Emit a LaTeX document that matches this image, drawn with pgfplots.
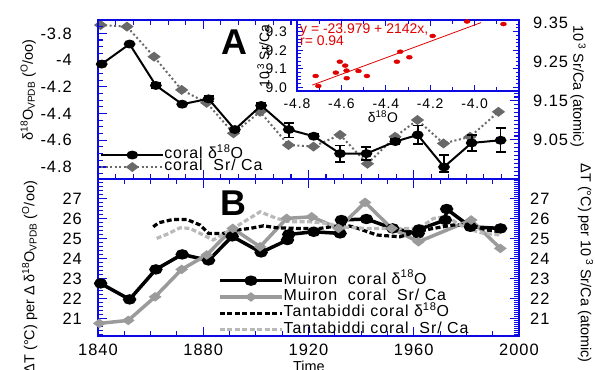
\documentclass[border=0pt]{standalone}
\usepackage{fontspec}
\setmainfont{Liberation Sans}
\newfontfamily\wf[LetterSpace=6]{Liberation Sans}
\usepackage{pgfplots}
\pgfplotsset{compat=1.18}
\definecolor{fblue}{RGB}{10,10,225}
\definecolor{agray}{RGB}{105,105,105}
\definecolor{mgray}{RGB}{155,155,155}
\definecolor{lgray}{RGB}{185,185,185}
\definecolor{ired}{RGB}{225,0,0}
\newcommand{\fs}[1]{\fontsize{#1}{#1}\selectfont}
\pgfplotsset{
  base/.style={
    scale only axis,
    width=421bp,
    xmin=1840, xmax=2000,
    axis line style={fblue, line width=1.4bp},
    tick style={fblue, line width=1.1bp},
    major tick length=9bp,
    minor tick length=5bp,
    tick align=inside,
    /pgf/number format/assume math mode=true,
    /pgf/number format/1000 sep={},
    ticklabel style={font=\wf\fs{16.5}, inner sep=0pt},
    label style={font=\fs{14.5}},
    clip=false,
  },
  mylegend/.style={legend image code/.code={\draw[mark repeat=2,mark phase=2,##1] plot coordinates {(0bp,0bp) (31bp,0bp) (62bp,0bp)};}},
}
\begin{document}
\begin{tikzpicture}
\useasboundingbox (0,0) rectangle (595bp,-370bp);

% ---------- Panel A, right axis (Sr/Ca) ----------
\begin{axis}[base, at={(98bp,-20bp)}, anchor=north west, height=159bp,
  ymin=8.95, ymax=9.357, hide x axis, ytick pos=right,
  ytick={9.05,9.15,9.25,9.35}, minor ytick={8.96,8.97,...,9.355},
  yticklabel style={xshift=14bp, /pgf/number format/fixed, /pgf/number format/fixed zerofill, /pgf/number format/precision=2},
  ylabel={10\,\textsuperscript{3} Sr/Ca (atomic)},
  ylabel style={at={(axis description cs:1.140,0.585)}, anchor=center, rotate=180},
]
\addplot[agray, line width=2bp, dash pattern=on 2bp off 2.5bp, mark=diamond*, mark size=5bp,
  mark options={solid, rotate=90, fill=agray, draw=agray}] coordinates {
(1841,9.344) (1851,9.340) (1861.3,9.263) (1871.8,9.178) (1881.3,9.145) (1891.5,9.067)
(1901.6,9.122) (1912.4,9.037) (1921.9,9.033) (1932,9.063) (1942.4,8.989) (1952.9,9.058)
(1961.4,9.101) (1971.3,9.041) (1981.4,9.058) (1992.2,9.122)};
\end{axis}

% ---------- Panel A, left axis (d18O) ----------
\begin{axis}[base, mylegend, at={(98bp,-20bp)}, anchor=north west, height=159bp,
  ymin=-4.89, ymax=-3.70, ytick pos=left,
  ytick={-4.8,-4.6,-4.4,-4.2,-4,-3.8}, minor ytick={-4.85,-4.8,...,-3.7},
  xtick={1840,1880,1920,1960,2000}, minor x tick num=5, xticklabels={},
  yticklabel style={xshift=-26bp},
  ylabel={δ\textsuperscript{18}O\textsubscript{VPDB} (\textsuperscript{O}/oo)},
  ylabel style={at={(axis description cs:-0.166,0.56)}, anchor=center},
  legend style={at={(axis description cs:0.005,0.185)}, anchor=north west, draw=none, fill=none,
    font=\wf\fs{16}, inner sep=0pt, row sep=1.5bp, column sep=0bp,
    nodes={inner sep=0pt, text height=8.5bp, text depth=2bp}},
  legend cell align=left,
]
\addplot[black, line width=2bp, mark=*, mark size=4bp, mark options={xscale=1.2, yscale=0.85},
  error bars/.cd, y dir=both, y explicit,
  error bar style={line width=1.8bp},
  error mark options={rotate=90, mark size=5bp, line width=1.8bp}] coordinates {
(1841.4,-4.03) +- (0,0)
(1852,-3.88) +- (0,0)
(1862,-4.19) +- (0,0.02)
(1872,-4.33) +- (0,0)
(1882,-4.29) +- (0,0.02)
(1892,-4.52) +- (0,0.01)
(1902,-4.34) +- (0,0.02)
(1912.5,-4.52) += (0,0.05) -= (0,0.06)
(1922,-4.57) +- (0,0.015)
(1932,-4.70) +- (0,0.06)
(1942,-4.70) +- (0,0.05)
(1953,-4.61) +- (0,0.02)
(1961.5,-4.56) +- (0,0.07)
(1971.5,-4.80) += (0,0.09) -= (0,0.04)
(1982,-4.62) +- (0,0.06)
(1993,-4.60) +- (0,0.09)};
\addlegendentry{coral δ\textsuperscript{18}O}
\addlegendimage{agray, line width=2bp, dash pattern=on 2bp off 2.5bp, mark=diamond*, mark size=5bp, mark options={solid, rotate=90, fill=agray, draw=agray}}
\addlegendentry{coral\ \ Sr/ Ca}
\node[font=\bfseries\fs{36}] at (axis description cs:0.323,0.862) {A};
\end{axis}

% ---------- Inset ----------
\begin{axis}[scale only axis, at={(297bp,-20bp)}, anchor=north west, width=222bp, height=71bp,
  xmin=-4.8, xmax=-3.8, ymin=8.98, ymax=9.363, clip=false,
  axis background/.style={fill=white},
  axis line style={fblue, line width=1.4bp},
  tick style={fblue, line width=1bp},
  major tick length=6bp, minor tick length=3.5bp, tick align=inside,
  /pgf/number format/assume math mode=true,
  /pgf/number format/fixed, /pgf/number format/fixed zerofill, /pgf/number format/precision=1,
  xtick={-4.8,-4.6,-4.4,-4.2,-4.0}, minor xtick={-4.7,-4.5,-4.3,-4.1,-3.9,-3.8},
  ytick={9.0,9.1,9.2,9.3}, minor ytick={8.98,9.0,...,9.36},
  ticklabel style={font=\wf\fs{14}, inner sep=0pt},
  xticklabel style={yshift=-8bp},
  yticklabel style={xshift=-10bp},
  ylabel={10\,\textsuperscript{3} Sr/Ca}, xlabel={δ\textsuperscript{18}O},
  label style={font=\fs{14}},
  ylabel style={at={(axis description cs:-0.151,0.493)}, anchor=center},
  xlabel style={at={(axis description cs:0.387,-0.366)}, anchor=center},
]
\addplot[ired, line width=0.8bp] coordinates {(-4.731,9.012) (-3.971,9.349)};
\addplot[only marks, ired, mark=*, mark size=2.5bp, mark options={xscale=1.2, yscale=0.8}] coordinates {
(-4.716,9.061) (-4.704,9.007) (-4.625,9.079) (-4.607,9.138) (-4.583,9.117) (-4.577,9.090)
(-4.576,9.049) (-4.523,9.088) (-4.485,9.061) (-4.350,9.138) (-4.335,9.192) (-4.294,9.162)
(-4.189,9.277) (-4.034,9.355) (-3.870,9.341)};
\node[anchor=north west, align=left, text=ired, font=\fs{14}, inner sep=0pt]
  at (axis description cs:0.0135,0.944) {y = -23.979 + 2142x,\\[-2bp]r= 0.94};
\end{axis}

% ---------- Panel B, right axis ----------
\begin{axis}[base, at={(98bp,-179bp)}, anchor=north west, height=157bp,
  ymin=20.12, ymax=27.97, hide x axis, ytick pos=right,
  ytick={21,22,...,27}, minor ytick={20.2,20.3,...,27.95},
  yticklabel style={xshift=11bp},
  ylabel={ΔT (°C) per 10\,\textsuperscript{3} Sr/Ca (atomic)},
  ylabel style={at={(axis description cs:1.158,0.465)}, anchor=center, rotate=180},
]
\end{axis}

% ---------- Panel B, left axis ----------
\begin{axis}[base, mylegend, at={(98bp,-179bp)}, anchor=north west, height=157bp,
  ymin=20.12, ymax=27.97, ytick pos=left,
  ytick={21,22,...,27}, minor ytick={20.2,20.4,...,27.9},
  xtick={1840,1880,1920,1960,2000}, minor x tick num=3,
  xticklabel style={yshift=-8bp},
  yticklabel style={xshift=-16bp},
  ylabel={ΔT (°C) per Δ δ\textsuperscript{18}O\textsubscript{VPDB} (\textsuperscript{O}/oo)},
  ylabel style={at={(axis description cs:-0.162,0.375)}, anchor=center},
  xlabel={Time},
  xlabel style={at={(axis description cs:0.501,-0.191)}, anchor=center},
  legend style={at={(axis description cs:0.285,0.395)}, anchor=north west, draw=none, fill=none,
    font=\wf\fs{16}, inner sep=0pt, row sep=3.3bp, column sep=0bp,
    nodes={inner sep=0pt, text height=10bp, text depth=3bp}},
  legend cell align=left,
]
\addplot[black, line width=3.5bp, mark=*, mark size=4bp, mark options={xscale=1.2, yscale=0.85}] coordinates {
(1841,22.75) (1852,21.95) (1862,23.45) (1872,24.2) (1882,23.9) (1891,25.1) (1902,24.3)
(1912,24.92) (1912.5,25.2) (1922,25.33) (1932,25.25) (1932.5,25.92) (1942,25.97) (1952,25.5)
(1961.7,25.25) (1962,25.45) (1972,25.92) (1972.5,26.47) (1981.5,25.58) (1993,25.5)};
\addlegendentry{Muiron\ \ coral δ\textsuperscript{18}O}
\addplot[mgray, line width=3.5bp, mark=diamond*, mark size=3.5bp, mark options={rotate=90, fill=mgray}] coordinates {
(1840.5,20.75) (1851.5,20.9) (1861.7,22.08) (1871.8,23.45) (1881.3,24.17) (1891.2,25.5)
(1901.6,24.58) (1911.7,26.0) (1921.2,26.08) (1931.4,25.5) (1941.5,26.8) (1951.6,25.5)
(1961.8,24.83) (1981.8,25.92) (1992.9,24.5)};
\addlegendentry{Muiron\ \ coral\ \ Sr/ Ca}
\addplot[black, line width=3.2bp, dash pattern=on 5bp off 2.5bp] coordinates {
(1861,25.58) (1863,25.78) (1868.6,25.95) (1873.7,25.95) (1878.8,25.67) (1882,25.25)
(1887.6,25.25) (1892.7,25.42) (1897.8,25.5) (1902.9,25.63) (1907.9,25.53) (1915.5,25.5)
(1924.4,25.5) (1933.3,25.67) (1937,25.58) (1946,25.17) (1954.8,25.08) (1961,25.33)
(1967.5,25.5) (1975,25.67) (1982,25.67) (1987.7,25.42) (1992.9,25.33)};
\addlegendentry{Tantabiddi coral δ\textsuperscript{18}O}
\addplot[lgray, line width=3.2bp, dash pattern=on 5bp off 2.5bp] coordinates {
(1862.3,25.0) (1866.1,25.2) (1871.2,25.53) (1875,25.5) (1880,25.17) (1883.8,24.92)
(1891.4,25.5) (1901.6,26.33) (1907.9,26.0) (1913,25.83) (1920.6,25.83) (1927,25.75)
(1932,25.58) (1942,25.5) (1952,25.5) (1962,25.5) (1967.5,26.0) (1972.5,26.08)
(1980,25.5) (1986.5,25.25) (1992.9,25.17)};
\addlegendentry{Tantabiddi coral\ \ Sr/ Ca}
\node[font=\bfseries\fs{36}] at (axis description cs:0.321,0.847) {B};
\end{axis}
\end{tikzpicture}
\end{document}
